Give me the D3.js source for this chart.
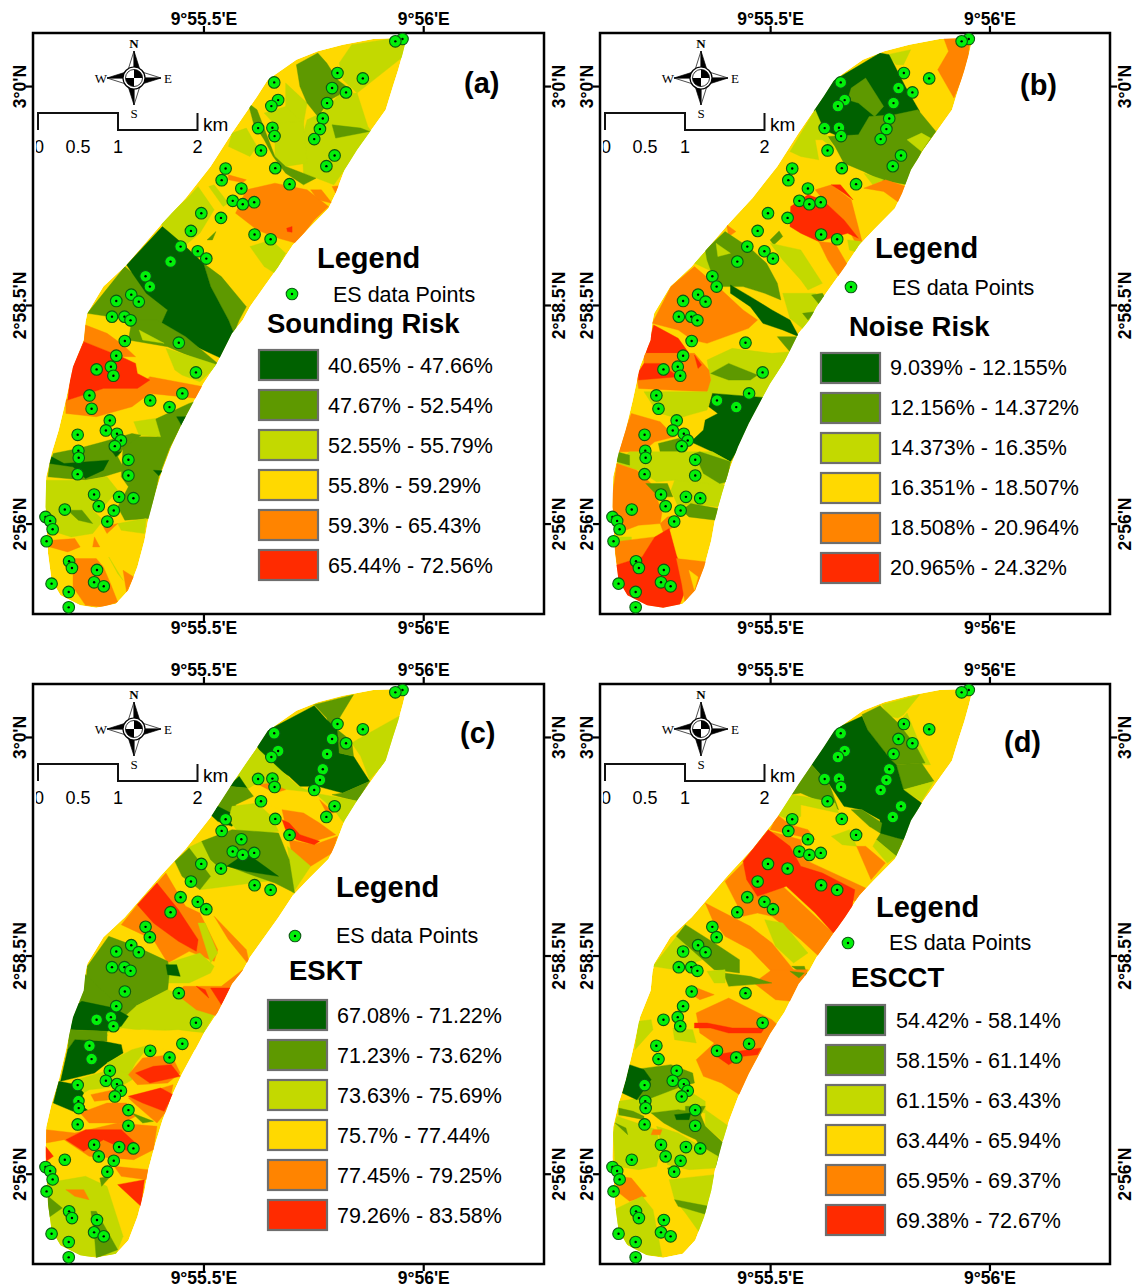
<!DOCTYPE html>
<html lang="en">
<head>
<meta charset="utf-8">
<title>ES risk maps</title>
<script src="https://d3js.org/d3.v7.min.js"></script>
<style>
  html, body { margin: 0; padding: 0; background: #fff; }
  svg { display: block; }
  text { font-family: "Liberation Sans", Arial, sans-serif; fill: #000; }
</style>
</head>
<body>
<svg id="chart" width="1135" height="1287"></svg>
<script>
// all map values are in sheet grid units
var classColors = ["#006100", "#5e9900", "#c3d900", "#ffd900", "#ff8400", "#ff2b00"];

var lonTicks = [570, 1185];
var lonLabels = ["9°55.5'E", "9°56'E"];
var latTicks = [259, 915, 1570];
var latLabels = ["3°0'N", "2°58.5'N", "2°56'N"];

var rangesA = ["40.65% - 47.66%", "47.67% - 52.54%", "52.55% - 55.79%", "55.8% - 59.29%", "59.3% - 65.43%", "65.44% - 72.56%"];
var rangesB = ["9.039% - 12.155%", "12.156% - 14.372%", "14.373% - 16.35%", "16.351% - 18.507%", "18.508% - 20.964%", "20.965% - 24.32%"];
var rangesC = ["67.08% - 71.22%", "71.23% - 73.62%", "73.63% - 75.69%", "75.7% - 77.44%", "77.45% - 79.25%", "79.26% - 83.58%"];
var rangesD = ["54.42% - 58.14%", "58.15% - 61.14%", "61.15% - 63.43%", "63.44% - 65.94%", "65.95% - 69.37%", "69.38% - 72.67%"];

var esPoints = [[1127,118],[1107,125],[945,220],[1016,236],[768,248],[930,265],[969,278],[779,301],[760,319],[916,310],
  [904,356],[723,385],[763,384],[896,388],[769,409],[880,418],[731,452],[937,467],[914,499],[771,505],
  [632,506],[621,541],[811,553],[676,566],[652,603],[680,613],[712,607],[564,640],[619,654],[535,693],
  [713,704],[758,718],[506,740],[554,754],[578,776],[478,785],[408,829],[420,860],[368,884],[389,905],
  [326,903],[314,950],[349,950],[366,961],[350,1023],[501,1028],[326,1067],[549,1117],[311,1100],[271,1108],
  [318,1127],[251,1186],[511,1180],[421,1201],[475,1221],[257,1226],[308,1261],[297,1291],[328,1301],[218,1304],
  [339,1321],[322,1338],[220,1352],[221,1373],[360,1379],[218,1422],[360,1426],[264,1483],[334,1490],[374,1494],
  [277,1518],[182,1528],[319,1531],[128,1550],[141,1562],[301,1564],[148,1587],[131,1623],[194,1683],[202,1703],
  [272,1709],[145,1750],[264,1746],[291,1758],[193,1775],[193,1821]];

var outline = [[1045,118],[1100,116],[1138,116],[1128,160],[1115,210],[1100,260],[1080,330],[1040,390],[1000,450],[965,510],
  [940,580],[920,625],[860,690],[820,735],[780,800],[740,860],[700,920],[680,960],[650,1000],[610,1085],
  [570,1150],[545,1200],[510,1270],[480,1340],[455,1410],[435,1480],[415,1560],[405,1620],[385,1700],[360,1770],
  [325,1810],[270,1822],[225,1815],[170,1785],[145,1740],[135,1660],[132,1600],[128,1520],[130,1430],[145,1360],
  [165,1290],[185,1200],[205,1100],[235,1020],[240,965],[245,940],[290,860],[350,800],[455,670],[520,595],
  [590,500],[650,400],[720,290],[750,240],[830,180],[890,155],[960,135]];

// [class, ring] painted in order over the yellow base
var zonesA = [
  [2,[[950,190],[985,135],[1140,110],[1130,170],[1000,280],[960,240]]],
  [2,[[1000,280],[1030,380],[1040,395],[965,510],[935,555],[850,520],[845,420],[860,360],[900,340],[950,285]]],
  [2,[[800,250],[860,310],[850,370],[800,330]]],
  [2,[[740,340],[800,320],[850,370],[770,375]]],
  [2,[[770,370],[850,365],[860,490],[800,500],[770,470]]],
  [2,[[650,400],[690,385],[720,440],[700,470],[640,440]]],
  [1,[[830,195],[890,160],[915,190],[945,240],[970,260],[950,285],[925,300],[890,350],[860,310],[840,260]]],
  [1,[[695,310],[720,330],[745,400],[770,470],[800,500],[885,535],[850,555],[800,520],[765,470],[740,420],[710,370]]],
  [1,[[930,375],[1010,385],[1035,395],[940,415]]],
  [2,[[450,670],[530,590],[555,560],[600,630],[560,700],[520,735],[490,720]]],
  [2,[[585,560],[600,555],[640,610],[625,620]]],
  [1,[[580,720],[605,695],[595,720]]],
  [2,[[700,740],[760,720],[800,760],[770,820],[740,800]]],
  [4,[[690,570],[770,550],[860,570],[920,620],[880,660],[830,730],[780,715],[720,690],[660,640]]],
  [4,[[870,570],[900,570],[930,610],[890,600]]],
  [4,[[640,525],[690,540],[680,548],[640,540]]],
  [4,[[930,560],[948,558],[940,580]]],
  [5,[[803,685],[818,680],[818,697],[805,695]]],
  [1,[[245,940],[350,800],[470,910],[470,935],[450,975],[370,960]]],
  [1,[[570,790],[620,830],[690,920],[670,960],[655,1000],[640,960],[590,860]]],
  [0,[[355,795],[455,680],[510,730],[570,790],[590,860],[640,960],[655,1000],[620,1075],[600,1065],[540,1035],[440,1000],[470,930],[410,880]]],
  [1,[[370,960],[440,960],[520,1010],[610,1090],[600,1100],[470,1040],[360,1020]]],
  [2,[[390,990],[460,1030],[400,1020]]],
  [2,[[465,1045],[610,1095],[560,1145],[510,1125],[490,1110]]],
  [4,[[240,975],[300,1000],[345,1035],[380,1070],[340,1070],[235,1025]]],
  [4,[[185,1240],[185,1200],[290,1165],[385,1165],[420,1130],[570,1160],[555,1195],[420,1180],[370,1220],[270,1250]]],
  [5,[[235,1025],[340,1070],[380,1090],[385,1120],[420,1140],[385,1165],[290,1165],[190,1200],[200,1110]]],
  [1,[[530,1210],[545,1205],[510,1270],[475,1345],[445,1430],[420,1555],[350,1560],[330,1520],[360,1460],[340,1430],[345,1340],[380,1310],[440,1310],[430,1260]]],
  [2,[[375,1265],[435,1255],[450,1310],[390,1305]]],
  [1,[[150,1360],[220,1345],[290,1325],[370,1300],[395,1305],[350,1340],[330,1370],[350,1410],[290,1430],[240,1440],[135,1430],[140,1390]]],
  [0,[[145,1370],[180,1390],[305,1380],[290,1410],[240,1435],[205,1400],[140,1390]]],
  [0,[[495,1250],[527,1250],[510,1278]]],
  [0,[[430,1410],[455,1412],[445,1427]]],
  [0,[[315,1355],[340,1355],[325,1370]]],
  [2,[[128,1440],[240,1440],[300,1430],[330,1470],[290,1520],[260,1530],[290,1560],[260,1600],[200,1610],[140,1590],[128,1520]]],
  [1,[[190,1530],[230,1530],[260,1570],[220,1560]]],
  [2,[[330,1570],[410,1555],[405,1600],[340,1590]]],
  [4,[[290,1580],[330,1570],[300,1600]]],
  [4,[[145,1620],[210,1615],[225,1640],[190,1655],[140,1640]]],
  [4,[[265,1610],[280,1640],[260,1640]]],
  [4,[[205,1675],[270,1675],[290,1700],[310,1750],[330,1805],[290,1820],[240,1815],[205,1760]]],
  [4,[[345,1710],[375,1730],[355,1775]]],
  [2,[[305,1670],[345,1740],[330,1720]]]
];

var zonesB = [
  [4,[[1035,110],[1110,110],[1105,170],[1090,230],[1065,295],[1020,210],[1050,155]]],
  [2,[[880,165],[945,150],[925,195],[905,195]]],
  [0,[[675,325],[720,250],[790,205],[860,160],[885,165],[930,260],[970,335],[900,355],[860,380],[770,420],[690,385]]],
  [1,[[780,265],[820,235],[870,320],[845,350],[800,310],[770,300]]],
  [1,[[830,350],[900,345],[965,330],[1015,395],[975,455],[935,555],[860,540],[815,515],[760,490],[735,440],[715,410],[800,405]]],
  [2,[[935,420],[975,400],[1000,415],[975,455]]],
  [2,[[815,520],[870,540],[840,555]]],
  [2,[[610,455],[680,330],[700,380],[735,450],[700,420],[680,420],[690,480],[640,470]]],
  [4,[[815,565],[875,540],[932,560],[912,608],[870,575]]],
  [4,[[680,570],[725,555],[780,600],[810,725],[790,725],[760,660],[710,610]]],
  [5,[[612,620],[660,585],[700,600],[760,660],[800,715],[770,700],[690,725],[640,700],[610,680]]],
  [5,[[725,555],[750,555],[785,600],[760,580]]],
  [4,[[690,725],[735,730],[770,795],[745,830],[715,780]]],
  [2,[[770,720],[808,725],[790,755],[775,750]]],
  [4,[[435,675],[460,695],[440,710]]],
  [2,[[345,790],[375,755],[405,820]]],
  [1,[[375,750],[430,695],[500,745],[545,790],[575,850],[585,900],[540,880],[480,860],[420,860],[390,810],[380,780]]],
  [2,[[405,730],[445,760],[410,770]]],
  [1,[[555,720],[580,693],[590,710],[565,735]]],
  [2,[[555,730],[640,750],[700,850],[660,870],[640,840],[590,780]]],
  [2,[[590,880],[680,880],[705,905],[650,990],[610,955]]],
  [4,[[228,970],[280,860],[345,800],[410,860],[480,930],[520,960],[495,985],[380,1030],[340,1020],[300,990]]],
  [0,[[445,855],[500,890],[560,930],[610,960],[635,1010],[590,990],[535,970],[500,920],[445,880]]],
  [1,[[670,885],[700,880],[715,905],[700,925]]],
  [1,[[645,940],[680,935],[660,960]]],
  [1,[[575,1010],[635,1010],[610,1055],[590,1030]]],
  [2,[[380,1080],[450,1045],[560,1060],[610,1055],[535,1192],[400,1180],[340,1160],[390,1140]]],
  [1,[[390,1120],[440,1090],[520,1125],[500,1140],[440,1140]]],
  [5,[[232,975],[300,1015],[330,1060],[210,1060],[220,1020]]],
  [4,[[205,1060],[345,1060],[385,1110],[390,1140],[380,1175],[190,1165],[185,1130],[205,1100]]],
  [5,[[205,1090],[250,1090],[300,1130],[190,1140],[190,1115]]],
  [5,[[345,1065],[365,1095],[355,1105]]],
  [2,[[205,1175],[395,1175],[380,1230],[330,1245],[300,1255],[250,1240],[235,1225]]],
  [0,[[395,1180],[535,1192],[500,1270],[470,1340],[445,1385],[395,1355],[335,1325],[370,1290],[375,1260],[410,1240],[385,1220]]],
  [4,[[170,1240],[250,1265],[290,1310],[235,1325],[200,1355],[135,1355],[150,1300]]],
  [1,[[245,1330],[300,1315],[335,1325],[320,1355],[250,1355]]],
  [2,[[165,1355],[240,1355],[395,1355],[445,1385],[435,1440],[400,1480],[290,1440],[240,1445],[190,1410],[130,1390]]],
  [1,[[130,1355],[165,1365],[165,1395],[130,1385]]],
  [2,[[290,1440],[430,1455],[410,1520],[340,1510],[300,1520],[280,1470]]],
  [1,[[360,1355],[445,1385],[435,1445],[415,1450],[370,1420],[345,1360]]],
  [4,[[118,1480],[130,1390],[185,1410],[225,1450],[255,1535],[250,1570],[190,1575],[130,1600],[118,1520]]],
  [1,[[210,1450],[270,1450],[285,1490],[245,1490]]],
  [1,[[335,1510],[410,1525],[405,1560],[330,1550],[310,1530]]],
  [2,[[130,1610],[170,1610],[170,1625],[135,1625]]],
  [4,[[270,1550],[300,1545],[300,1570],[260,1600],[250,1570]]],
  [4,[[122,1625],[235,1610],[205,1670],[130,1695]]],
  [5,[[235,1610],[275,1585],[295,1665],[315,1720],[320,1770],[300,1825],[225,1825],[150,1785],[130,1750],[128,1695],[200,1670]]],
  [4,[[295,1675],[380,1685],[360,1750],[345,1790],[320,1815],[310,1750]]],
  [3,[[330,1710],[355,1730],[345,1770]]]
];

var zonesC = [
  [1,[[880,165],[990,135],[945,215],[925,235],[915,205]]],
  [2,[[1125,195],[1100,270],[1085,330],[1035,390],[1010,320],[985,280],[1000,270]]],
  [0,[[720,290],[745,245],[880,168],[915,210],[945,240],[965,270],[950,310],[990,320],[1035,395],[960,430],[890,410],[840,410],[810,380],[740,330]]],
  [1,[[945,240],[985,275],[990,320],[950,310]]],
  [1,[[960,430],[1035,395],[1000,455],[930,435]]],
  [2,[[650,395],[720,295],[835,410],[880,430],[1005,455],[965,520],[900,460],[790,420],[720,400],[690,420]]],
  [0,[[640,410],[670,380],[692,415]]],
  [1,[[600,470],[640,410],[692,415],[710,440],[660,465],[670,520],[620,500]]],
  [0,[[590,495],[610,470],[665,500],[650,530],[610,515]]],
  [2,[[650,470],[720,460],[760,500],[780,545],[740,550],[670,550],[640,510]]],
  [3,[[720,410],[800,420],[880,430],[935,480],[960,520],[900,550],[850,520],[790,480],[760,470]]],
  [4,[[725,405],[760,400],[800,420],[770,430]]],
  [4,[[895,450],[935,490],[915,490]]],
  [4,[[790,480],[850,490],[895,520],[940,555],[880,575],[840,570],[800,530]]],
  [4,[[810,570],[880,585],[945,560],[930,610],[870,650],[820,630]]],
  [5,[[790,510],[810,520],[840,555],[895,575],[880,585],[830,570],[800,540]]],
  [2,[[805,590],[870,650],[820,730],[815,680]]],
  [2,[[525,595],[565,575],[610,650],[640,655],[700,670],[780,690],[600,715],[560,720],[590,680]]],
  [1,[[565,575],[650,540],[780,550],[810,630],[825,730],[770,700],[690,670],[640,650],[610,650],[590,630]]],
  [0,[[635,650],[690,610],[780,680],[690,665]]],
  [1,[[490,635],[530,595],[590,680],[560,720],[510,680]]],
  [4,[[340,825],[385,765],[440,700],[465,670],[520,770],[560,790],[610,900],[600,935],[530,905],[470,940],[430,870]]],
  [5,[[385,765],[440,700],[500,780],[515,805],[555,870],[550,905],[500,875],[430,820]]],
  [2,[[555,820],[575,820],[610,910],[590,940]]],
  [4,[[600,800],[690,900],[700,950],[640,870]]],
  [2,[[470,940],[560,910],[600,950],[590,970],[530,1000],[450,1000]]],
  [2,[[240,975],[240,1020],[380,1070],[470,1020],[430,960]]],
  [1,[[245,950],[305,860],[380,890],[470,935],[475,965],[470,1020],[380,1070],[320,1060],[240,1020]]],
  [0,[[465,945],[495,945],[505,980],[470,975]]],
  [2,[[380,1070],[470,1020],[540,1050],[600,1095],[570,1150],[500,1140],[420,1145],[345,1135],[300,1140],[300,1160]]],
  [3,[[300,1150],[400,1140],[570,1150],[550,1200],[490,1210],[420,1185],[380,1200],[330,1200]]],
  [4,[[490,1030],[515,1010],[620,1010],[680,960],[610,1100],[550,1080]]],
  [5,[[590,1015],[650,1015],[620,1065]]],
  [5,[[550,1010],[575,1020],[585,1045]]],
  [1,[[210,1050],[240,975],[325,1060],[350,1030],[380,1070],[340,1110]]],
  [0,[[205,1070],[230,1055],[320,1075],[360,1100],[340,1130],[300,1145],[198,1140]]],
  [1,[[195,1140],[300,1145],[300,1175],[210,1170],[190,1200]]],
  [0,[[210,1170],[290,1175],[340,1185],[345,1210],[300,1240],[265,1270],[170,1295],[190,1200]]],
  [2,[[300,1240],[370,1200],[420,1185],[380,1240],[360,1280],[310,1260]]],
  [2,[[215,1290],[310,1260],[370,1270],[370,1290],[340,1310],[250,1320],[235,1330]]],
  [0,[[165,1295],[215,1305],[235,1330],[220,1360],[250,1385],[205,1385],[150,1360]]],
  [4,[[360,1275],[400,1225],[480,1215],[505,1270],[470,1300],[385,1305]]],
  [5,[[380,1270],[430,1250],[480,1245],[505,1280],[420,1300]]],
  [4,[[360,1345],[485,1305],[470,1380],[440,1420],[375,1360]]],
  [5,[[360,1340],[450,1315],[485,1335],[460,1385],[400,1360]]],
  [4,[[255,1335],[320,1320],[310,1350],[265,1355]]],
  [4,[[225,1390],[300,1360],[355,1360],[380,1400],[345,1420],[250,1420]]],
  [1,[[370,1390],[430,1415],[400,1420]]],
  [4,[[130,1440],[210,1450],[330,1420],[440,1430],[430,1500],[375,1530],[250,1520],[180,1470],[130,1480]]],
  [5,[[185,1470],[240,1440],[340,1440],[380,1480],[360,1505],[290,1470],[235,1505]]],
  [5,[[128,1490],[150,1520],[130,1535]]],
  [4,[[320,1550],[415,1560],[410,1590],[340,1580]]],
  [2,[[130,1600],[240,1580],[300,1610],[345,1760],[325,1815],[200,1825],[145,1770],[130,1650]]],
  [5,[[330,1605],[405,1590],[395,1670]]],
  [4,[[185,1620],[235,1620],[250,1650],[210,1640]]],
  [1,[[255,1685],[270,1685],[330,1800],[270,1825],[265,1760]]],
  [1,[[135,1640],[175,1675],[135,1705]]],
  [1,[[280,1585],[310,1580],[285,1610]]]
];

var zonesD = [
  [2,[[865,165],[970,135],[925,195],[910,205],[885,200]]],
  [2,[[910,220],[935,190],[965,270],[1000,345],[970,345],[950,290]]],
  [1,[[810,195],[860,168],[910,220],[960,290],[985,340],[905,345],[890,330],[825,240]]],
  [1,[[905,345],[975,340],[1010,395],[925,420]]],
  [2,[[925,420],[1010,395],[975,455]]],
  [1,[[975,460],[960,490],[925,570],[905,620],[850,570],[865,545],[925,572]]],
  [0,[[670,345],[720,245],[810,200],[825,240],[890,330],[905,345],[925,420],[975,460],[960,490],[925,570],[860,550],[860,510],[810,480],[760,470],[720,405]]],
  [1,[[610,435],[670,345],[720,405],[745,480],[640,430]]],
  [1,[[780,480],[810,480],[865,520],[860,550],[830,530]]],
  [2,[[575,495],[610,435],[645,440],[735,460],[745,490],[640,465],[640,500],[620,515]]],
  [2,[[725,560],[775,540],[795,590],[755,585]]],
  [2,[[850,570],[905,620],[880,640],[840,590]]],
  [4,[[795,590],[820,590],[875,640],[835,690]]],
  [4,[[575,495],[610,525],[660,540],[680,570],[555,540]]],
  [4,[[555,545],[640,570],[650,630],[820,715],[790,755],[700,680],[640,650]]],
  [4,[[430,695],[480,640],[520,740],[590,710],[730,850],[690,920],[640,870],[560,800],[520,790],[480,800]]],
  [5,[[480,635],[550,540],[610,590],[640,650],[700,670],[790,720],[780,790],[730,850],[680,790],[600,710],[520,740],[490,690]]],
  [4,[[375,760],[500,830],[560,880],[620,960],[580,990],[500,900],[430,860],[395,810]]],
  [2,[[540,810],[590,820],[660,910],[620,940],[570,890]]],
  [1,[[615,950],[650,950],[660,985]]],
  [2,[[230,950],[296,860],[380,925],[290,960]]],
  [1,[[295,860],[320,825],[400,880],[470,930],[470,970],[400,960]]],
  [4,[[510,1000],[560,960],[660,960],[615,1055],[570,1050]]],
  [1,[[610,965],[650,970],[635,985]]],
  [1,[[425,970],[500,980],[560,1000],[440,1010]]],
  [2,[[380,965],[430,960],[430,1000],[400,1000]]],
  [4,[[340,1010],[400,1035],[360,1050],[345,1040]]],
  [4,[[350,1090],[440,1045],[560,1110],[575,1125],[530,1210],[470,1335],[420,1300],[370,1280],[350,1230],[400,1180],[360,1150]]],
  [5,[[345,1120],[380,1120],[450,1135],[540,1135],[530,1150],[440,1150],[390,1135],[345,1135]]],
  [5,[[400,1215],[530,1195],[520,1215],[480,1220],[440,1245]]],
  [2,[[190,1115],[225,1110],[230,1140],[180,1200]]],
  [2,[[285,1135],[340,1140],[350,1180],[290,1170]]],
  [2,[[135,1355],[225,1340],[310,1310],[375,1355],[375,1390],[300,1380],[225,1390],[135,1400]]],
  [1,[[175,1260],[280,1245],[340,1270],[345,1300],[310,1310],[225,1345],[185,1350]]],
  [0,[[165,1245],[205,1260],[225,1290],[185,1350],[145,1330]]],
  [2,[[375,1380],[440,1430],[430,1480],[375,1430]]],
  [1,[[225,1390],[300,1380],[360,1390],[375,1430],[425,1480],[410,1555],[380,1530],[350,1470],[310,1450],[260,1420]]],
  [1,[[320,1370],[375,1370],[360,1400],[320,1395]]],
  [0,[[290,1395],[335,1390],[330,1410],[295,1410]]],
  [1,[[135,1375],[175,1385],[205,1400],[205,1410],[135,1395]]],
  [2,[[120,1450],[130,1400],[240,1440],[250,1500],[240,1550],[190,1560],[125,1550]]],
  [1,[[125,1420],[155,1435],[160,1455]]],
  [2,[[240,1430],[300,1450],[410,1520],[405,1555],[330,1560],[270,1545],[255,1490]]],
  [4,[[230,1440],[255,1440],[250,1455],[225,1455]]],
  [1,[[270,1555],[295,1550],[300,1575],[275,1570]]],
  [4,[[130,1580],[170,1585],[212,1640],[165,1655],[130,1625]]],
  [2,[[275,1590],[400,1575],[385,1700],[360,1750],[320,1690],[290,1650]]],
  [1,[[290,1650],[385,1670],[380,1695],[300,1670]]],
  [2,[[122,1680],[200,1640],[230,1680],[255,1820],[200,1815],[140,1770]]]
];

var panels = [
  { tag: "a", zones: zonesA, ranges: rangesA, title: "Sounding Risk", left: 33, right: 544, top: 33, bottom: 614,
    zoneX: [93, 1523], zoneY: [100, 1841], labelX: 464, labelY: 93, legendX: 317, legendY: 268, dotX: 292, dotY: 294,
    esX: 333, esY: 302, titleX: 267, titleY: 333, swX: 259, swY: 350, textX: 328, textY: 373 },
  { tag: "b", zones: zonesB, ranges: rangesB, title: "Noise Risk", left: 600, right: 1110, top: 33, bottom: 614,
    zoneX: [83, 1498], zoneY: [100, 1841], labelX: 1020, labelY: 95, legendX: 875, legendY: 258, dotX: 851, dotY: 287,
    esX: 892, esY: 295, titleX: 849, titleY: 336, swX: 821, swY: 353, textX: 890, textY: 375 },
  { tag: "c", zones: zonesC, ranges: rangesC, title: "ESKT", left: 33, right: 544, top: 684, bottom: 1264,
    zoneX: [93, 1523], zoneY: [103, 1843], labelX: 460, labelY: 743, legendX: 336, legendY: 897, dotX: 295, dotY: 936,
    esX: 336, esY: 943, titleX: 289, titleY: 980, swX: 268, swY: 1000, textX: 337, textY: 1023 },
  { tag: "d", zones: zonesD, ranges: rangesD, title: "ESCCT", left: 600, right: 1110, top: 684, bottom: 1264,
    zoneX: [83, 1498], zoneY: [103, 1843], labelX: 1004, labelY: 752, legendX: 876, legendY: 917, dotX: 848, dotY: 943,
    esX: 889, esY: 950, titleX: 851, titleY: 987, swX: 826, swY: 1005, textX: 896, textY: 1028 }
];

var svg = d3.select("#chart");

function drawDot(g, x, y) {
  g.append("circle").attr("cx", x).attr("cy", y).attr("r", 5.8)
    .attr("fill", "#02f00a").attr("stroke", "#0b5a12").attr("stroke-width", 1.1);
  g.append("circle").attr("cx", x).attr("cy", y).attr("r", 1.2).attr("fill", "#000");
}

function drawCompass(g, cx, cy) {
  var c = g.append("g").attr("transform", "translate(" + cx + "," + cy + ")");
  [0, 90, 180, 270].forEach(function (a) {
    var blade = c.append("g").attr("transform", "rotate(" + a + ")");
    blade.append("path").attr("d", "M0,-27 L-6,-8 L0,-8 Z").attr("fill", "#fff").attr("stroke", "#000").attr("stroke-width", 0.7);
    blade.append("path").attr("d", "M0,-27 L6,-8 L0,-8 Z").attr("fill", "#000").attr("stroke", "#000").attr("stroke-width", 0.7);
  });
  c.append("circle").attr("r", 11).attr("fill", "#fff").attr("stroke", "#000").attr("stroke-width", 1.2);
  c.append("circle").attr("r", 8.5).attr("fill", "#fff").attr("stroke", "#000").attr("stroke-width", 0.8);
  c.append("path").attr("d", "M0,0 L0,-8.5 A8.5,8.5 0 0 1 8.5,0 Z").attr("fill", "#000");
  c.append("path").attr("d", "M0,0 L0,8.5 A8.5,8.5 0 0 1 -8.5,0 Z").attr("fill", "#000");
  var letters = [["N", 0, -30], ["S", 0, 40], ["W", -33, 5], ["E", 34, 5]];
  letters.forEach(function (l) {
    c.append("text").attr("x", l[1]).attr("y", l[2]).attr("text-anchor", "middle")
      .style("font-family", "'Liberation Serif', serif").style("font-size", "13px")
      .style("font-weight", l[0] == "N" ? "bold" : "normal").attr("fill", "#222").text(l[0]);
  });
}

function drawScaleBar(g, left, top, i) {
  var x0 = left + 5, xm = left + 85, x2 = left + 164.5, up = top + 80, dn = top + 97;
  g.append("path").attr("d", "M" + x0 + "," + dn + " V" + up + " H" + xm + " V" + dn + " H" + x2 + " V" + up)
    .attr("fill", "none").attr("stroke", "#111").attr("stroke-width", 2);
  var clipId = "zeroclip" + i;
  g.append("clipPath").attr("id", clipId).append("rect").attr("x", left + 3).attr("y", top + 100).attr("width", 30).attr("height", 30);
  var tl = [["0", x0 + 1, clipId], ["0.5", left + 45], ["1", xm], ["2", x2]];
  tl.forEach(function (t) {
    var el = g.append("text").attr("x", t[1]).attr("y", top + 120).attr("text-anchor", "middle")
      .style("font-size", "18px").text(t[0]);
    if (t[2]) el.attr("clip-path", "url(#" + t[2] + ")");
  });
  g.append("text").attr("x", left + 170).attr("y", top + 98).style("font-size", "19px").text("km");
}

panels.forEach(function (p, i) {
  var g = svg.append("g");

  var x = d3.scaleLinear().domain([93, 1523]).range([p.left, p.right]);
  var y = d3.scaleLinear().domain([100, 1841]).range([p.top, p.bottom]);
  var zx = d3.scaleLinear().domain(p.zoneX).range([p.left, p.right]);
  var zy = d3.scaleLinear().domain(p.zoneY).range([p.top, p.bottom]);

  var ring = d3.line().x(function (d) { return x(d[0]); }).y(function (d) { return y(d[1]); }).curve(d3.curveLinearClosed);
  var zoneRing = d3.line().x(function (d) { return zx(d[0]); }).y(function (d) { return zy(d[1]); }).curve(d3.curveLinearClosed);

  var clipId = "area" + p.tag;
  g.append("clipPath").attr("id", clipId).append("path").attr("d", ring(outline));

  var map = g.append("g").attr("clip-path", "url(#" + clipId + ")");
  map.append("path").attr("d", ring(outline)).attr("fill", classColors[3]);
  map.selectAll("path.zone").data(p.zones).enter().append("path")
    .attr("class", "zone")
    .attr("d", function (d) { return zoneRing(d[1]); })
    .attr("fill", function (d) { return classColors[d[0]]; })
    .attr("stroke", function (d) { return classColors[d[0]]; })
    .attr("stroke-width", 0.4);

  // frame
  g.append("rect").attr("x", p.left).attr("y", p.top)
    .attr("width", p.right - p.left).attr("height", p.bottom - p.top)
    .attr("fill", "none").attr("stroke", "#000").attr("stroke-width", 2.5);

  // axes
  var lonFmt = function (d, k) { return lonLabels[k]; };
  var latFmt = function (d, k) { return latLabels[k]; };

  var top = g.append("g").attr("transform", "translate(0," + p.top + ")")
    .call(d3.axisTop(x).tickValues(lonTicks).tickFormat(lonFmt).tickSize(7).tickPadding(1));
  var bot = g.append("g").attr("transform", "translate(0," + p.bottom + ")")
    .call(d3.axisBottom(x).tickValues(lonTicks).tickFormat(lonFmt).tickSize(7).tickPadding(0.5));
  var lft = g.append("g").attr("transform", "translate(" + p.left + ",0)")
    .call(d3.axisLeft(y).tickValues(latTicks).tickFormat(latFmt).tickSize(7));
  var rgt = g.append("g").attr("transform", "translate(" + p.right + ",0)")
    .call(d3.axisRight(y).tickValues(latTicks).tickFormat(latFmt).tickSize(7));

  [top, bot, lft, rgt].forEach(function (a) {
    a.select(".domain").remove();
    a.selectAll(".tick line").attr("stroke", "#000").attr("stroke-width", 2.2);
    a.selectAll("text").style("font-family", "'Liberation Sans', Arial, sans-serif")
      .style("font-size", "17.5px").style("font-weight", "bold").attr("fill", "#000");
  });
  lft.selectAll("text").attr("x", null).attr("dy", null).attr("text-anchor", "middle")
    .attr("transform", "translate(-7.5,0) rotate(-90)");
  rgt.selectAll("text").attr("x", null).attr("dy", null).attr("text-anchor", "middle")
    .attr("transform", "translate(21,0) rotate(-90)");

  // ES data points, same positions in all four maps
  var pts = g.append("g");
  esPoints.forEach(function (d) { drawDot(pts, x(d[0]), y(d[1])); });

  drawCompass(g, p.left + 101, p.top + 45);
  drawScaleBar(g, p.left, p.top, i);

  // panel tag and legend
  g.append("text").attr("x", p.labelX).attr("y", p.labelY).style("font-size", "29px").style("font-weight", "bold").text("(" + p.tag + ")");
  g.append("text").attr("x", p.legendX).attr("y", p.legendY).style("font-size", "29px").style("font-weight", "bold").text("Legend");
  drawDot(g, p.dotX, p.dotY);
  g.append("text").attr("x", p.esX).attr("y", p.esY).style("font-size", "21.5px").text("ES data Points");
  g.append("text").attr("x", p.titleX).attr("y", p.titleY).style("font-size", "27.5px").style("font-weight", "bold").text(p.title);

  var rows = g.selectAll("g.row").data(p.ranges).enter().append("g").attr("class", "row");
  rows.append("rect")
    .attr("x", p.swX).attr("y", function (d, k) { return p.swY + k * 40; })
    .attr("width", 59).attr("height", 30)
    .attr("fill", function (d, k) { return classColors[k]; })
    .attr("stroke", "#6e6e6e").attr("stroke-width", 2.2);
  rows.append("text")
    .attr("x", p.textX).attr("y", function (d, k) { return p.textY + k * 40; })
    .style("font-size", "21.5px").text(function (d) { return d; });
});
</script>
</body>
</html>
